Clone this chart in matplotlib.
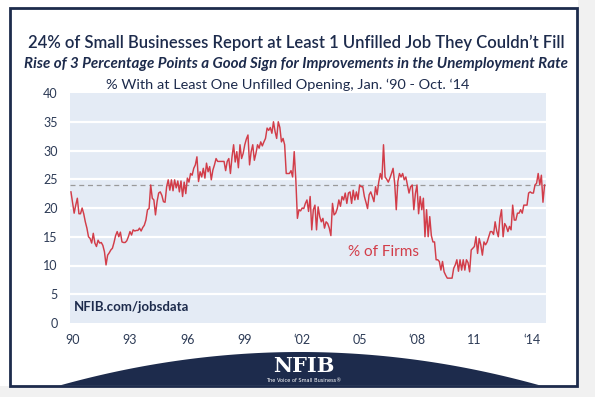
import matplotlib
matplotlib.use("Agg")
import matplotlib.pyplot as plt
from matplotlib.patches import Rectangle, Polygon
import numpy as np

# ---------------- data (monthly, Jan 1990 - Oct 2014) ----------------
y1990 = [22.8, 21, 19.1, 20.5, 21.7, 19, 19, 20, 19, 17.6, 16.5, 15]
y1991 = [14.7, 13.9, 15.6, 13.9, 13.3, 14.4, 13.9, 14, 13.5, 12.4, 10.1, 11.8]
y1992 = [12.2, 12.7, 13, 14, 15.2, 15.9, 15, 15.8, 14.1, 14, 14, 14.3]
y1993 = [15, 15.9, 15.3, 16.2, 16, 16.1, 16.1, 16.5, 16, 16.6, 17, 17.9]
y1994 = [19.7, 19.9, 24, 21.7, 21.4, 18.8, 21.1, 22.6, 22.8, 22.2, 21.1, 21]
y1995 = [23.7, 24.9, 23.1, 24.9, 23, 24.9, 23.5, 24.7, 22.8, 24.7, 22, 24.5]
y1996 = [22.5, 25.2, 24.5, 26, 25.7, 26.9, 27.5, 28.9, 24.6, 26.3, 25.4, 26.9]
y1997 = [25.2, 27.8, 26.3, 27.2, 24.9, 26.6, 27.5, 28.6, 28.1, 28.1, 28.1, 28.1]
y1998 = [28.1, 26.5, 28.1, 28.6, 26, 28.9, 31, 28, 29.8, 27, 31, 28.6]
y1999 = [29.5, 31, 32, 32.7, 27.5, 29.8, 31, 28.3, 29.5, 31, 30.4, 31.5]
y2000 = [30.8, 31.5, 32.1, 33.9, 33.5, 34, 33, 35, 33.3, 32.1, 35, 34]
y2001 = [31.5, 32.1, 31, 26, 26, 26, 26.5, 25.4, 29.8, 25, 18.2, 19.7]
y2002 = [19.5, 20, 19.9, 20.8, 21.4, 19.4, 22, 16.2, 19.7, 20.5, 16.2, 20.2]
y2003 = [18.5, 17.6, 18.2, 16.5, 17.6, 17.3, 16.5, 15.2, 20.8, 18.8, 19.1, 19.9]
y2004 = [21.4, 20.3, 22, 21.4, 22.6, 20.8, 22.6, 22.8, 20.8, 23.1, 21.4, 22.8]
y2005 = [21.5, 24, 23.7, 23.7, 22, 21, 19.9, 22.3, 22.8, 22, 21.1, 23.7]
y2006 = [22.3, 24.5, 26, 25, 31, 25.4, 25, 24.5, 25.2, 26, 26.9, 24.3]
y2007 = [19.7, 24.6, 26, 25.4, 26, 24.9, 25.4, 24, 22.6, 23.7, 24, 19.7]
y2008 = [22.5, 24, 19, 22, 19.7, 21.7, 15, 19.7, 15, 18.5, 15.2, 14.1]
y2009 = [14.1, 11, 11, 10.7, 9.2, 10.7, 8.9, 8.3, 7.8, 7.8, 7.8, 7.8]
y2010 = [9.5, 10.1, 11, 9, 11, 9.2, 11, 9.2, 11, 10.5, 8.9, 12.7]
y2011 = [13, 13.3, 15, 12.1, 14.7, 13.6, 11.8, 14.1, 13.6, 14.1, 15, 15.9]
y2012 = [15.9, 15.4, 17.6, 16, 15, 18.2, 19.7, 15, 17.3, 16.8, 15.9, 16.8]
y2013 = [16.2, 20.5, 17.9, 17.9, 19.1, 19.1, 19.7, 19.1, 20.5, 20.5, 20.5, 22.6]
y2014 = [22.8, 22.6, 22.6, 24, 24.3, 26, 24, 25.7, 21, 24]

pct_firms = (y1990 + y1991 + y1992 + y1993 + y1994 + y1995 + y1996 + y1997 +
             y1998 + y1999 + y2000 + y2001 + y2002 + y2003 + y2004 + y2005 +
             y2006 + y2007 + y2008 + y2009 + y2010 + y2011 + y2012 + y2013 + y2014)

reference_level = 24
tick_years = [1990, 1993, 1996, 1999, 2002, 2005, 2008, 2011, 2014]
tick_labels = ["90", "93", "96", "99", "\u201802", "05", "\u201808", "11", "\u201814"]
y_ticks = [0, 5, 10, 15, 20, 25, 30, 35, 40]

title = "24% of Small Businesses Report at Least 1 Unfilled Job They Couldn\u2019t Fill"
subtitle = "Rise of 3 Percentage Points a Good Sign for Improvements in the Unemployment Rate"
chart_label = "% With at Least One Unfilled Opening, Jan. \u201890 - Oct. \u201814"
series_label = "% of Firms"
source_label = "NFIB.com/jobsdata"

# ---------------- styling ----------------
NAVY = "#1d2b4c"
RED = "#d23d49"
PLOT_BG = "#e4ebf5"
W, H = 595, 397

def fx(x):
    return x / W

def fy(y):
    return 1 - y / H

fig = plt.figure(figsize=(W / 100, H / 100), dpi=100)
fig.patch.set_facecolor("white")

# outside light gray strips
fig.patches.append(Rectangle((fx(578), 0), 1, 1, transform=fig.transFigure,
                             facecolor="#f1f1f1", edgecolor="none", zorder=0))
fig.patches.append(Rectangle((0, 0), 1, fy(386), transform=fig.transFigure,
                             facecolor="#f1f1f1", edgecolor="none", zorder=0))
# frame
fig.patches.append(Rectangle((fx(10), fy(386)), (577 - 10) / W, (386 - 8) / H,
                             transform=fig.transFigure, facecolor="white",
                             edgecolor=NAVY, linewidth=2, zorder=0.5))

# bottom banner with arched top
bx = np.linspace(11, 576, 300)
by = np.minimum(352 + 0.00058 * (bx - 300) ** 2, 385.5)
pts = [(fx(a), fy(b)) for a, b in zip(bx, by)] + [(fx(576), fy(385.5)), (fx(11), fy(385.5))]
fig.patches.append(Polygon(pts, closed=True, transform=fig.transFigure,
                           facecolor=NAVY, edgecolor="none", zorder=1))

# ---------------- axes ----------------
ax = fig.add_axes([fx(70), fy(323), (546 - 70) / W, (323 - 93) / H])
ax.set_zorder(3)
ax.set_facecolor(PLOT_BG)
months = np.arange(len(pct_firms))
ax.plot(months, pct_firms, color=RED, linewidth=1.05, zorder=3)
ax.axhline(reference_level, color="#9a9a9a", linewidth=0.9, linestyle=(0, (4, 3)), zorder=2)
for v in y_ticks[1:-1]:
    ax.axhline(v, color="white", linewidth=1.6, zorder=1)

ax.set_xlim(-0.6, len(pct_firms) - 0.1)
ax.set_ylim(0, 40)
for s in ax.spines.values():
    s.set_visible(False)
ax.set_yticks(y_ticks)
ax.set_yticklabels([str(v) for v in y_ticks])
ax.set_xticks([(y - 1990) * 12 + 1 for y in tick_years])
ax.set_xticklabels(tick_labels)
ax.tick_params(axis="both", length=0, colors="#2c3a55", labelsize=9)
ax.tick_params(axis="y", pad=9)
ax.tick_params(axis="x", pad=8)
for lab in ax.get_xticklabels() + ax.get_yticklabels():
    lab.set_family("Lato")

ax.text(196, 12.3, series_label, color=RED, fontsize=11, family="Lato",
        ha="center", va="center", zorder=4)
ax.text(2, 2.8, source_label, color=NAVY, fontsize=9.5, family="Lato",
        weight="bold", ha="left", va="center", zorder=4)

# ---------------- titles ----------------
t1 = fig.text(fx(296), fy(43), title, ha="center", va="center", color=NAVY,
              family="Lato", weight="semibold", fontsize=12)
t2 = fig.text(fx(296), fy(64), subtitle, ha="center", va="center", color=NAVY,
              family="Lato", weight="bold", style="italic", fontsize=10)
t3 = fig.text(fx(288), fy(85), chart_label, ha="center", va="center", color=NAVY,
              family="Lato", fontsize=9.5)

renderer = fig.canvas.get_renderer()

def fit(t, width):
    bb = t.get_window_extent(renderer)
    t.set_fontsize(t.get_fontsize() * width / bb.width)

fit(t1, 537)
fit(t2, 545)
fit(t3, 365)

# logo
fig.text(fx(304), fy(366), "NFIB", ha="center", va="center", color="white",
         family="DejaVu Serif", weight="bold", fontsize=15, zorder=5)
fig.text(fx(304), fy(380), "The Voice of Small Business\u00ae", ha="center", va="center",
         color="white", family="DejaVu Sans", fontsize=3.6, zorder=5)

fig.savefig("out.png", dpi=100, facecolor=fig.get_facecolor())
